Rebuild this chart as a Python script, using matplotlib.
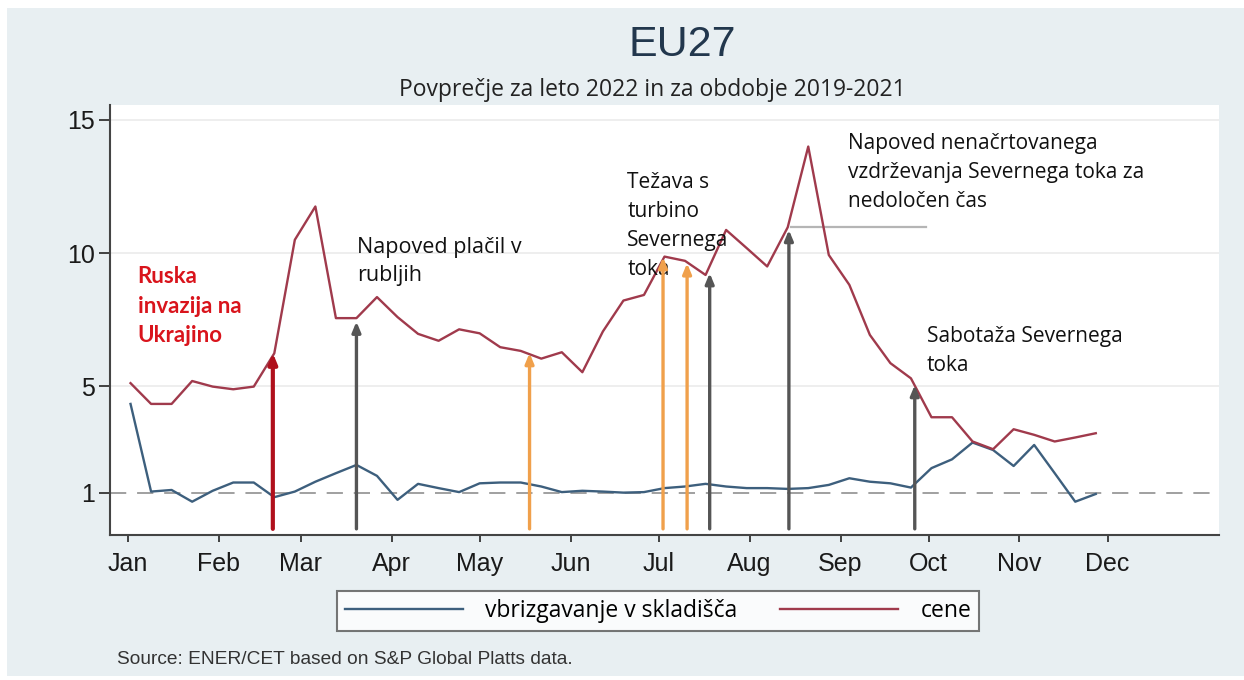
import matplotlib.pyplot as plt
from matplotlib.patches import Rectangle

# weekly observations, day-of-year (Jan 1 = 0)
week_day = [1 + 7 * i for i in range(48)]

cene = [5.12, 4.34, 4.34, 5.2, 4.99, 4.89, 4.99, 6.24, 10.5, 11.75,
        7.56, 7.56, 8.35, 7.6, 6.97, 6.71, 7.14, 6.99, 6.47, 6.33,
        6.04, 6.28, 5.53, 7.06, 8.22, 8.43, 9.87, 9.71, 9.18, 10.87,
        10.19, 9.5, 10.97, 14.0, 9.93, 8.81, 6.93, 5.87, 5.3, 3.84,
        3.84, 2.93, 2.64, 3.39, 3.18, 2.93, 3.08, 3.24]

vbrizg = [4.34, 1.05, 1.11, 0.67, 1.08, 1.39, 1.39, 0.84, 1.05, 1.42,
          1.74, 2.05, 1.64, 0.74, 1.34, 1.18, 1.03, 1.36, 1.39, 1.39,
          1.24, 1.03, 1.08, 1.05, 1.01, 1.03, 1.18, 1.24, 1.34, 1.24,
          1.18, 1.18, 1.15, 1.18, 1.30, 1.55, 1.42, 1.36, 1.2, 1.93,
          2.26, 2.89, 2.61, 2.01, 2.8, 1.74, 0.67, 0.96]

month_start = [0, 31, 59, 90, 120, 151, 181, 212, 243, 273, 304, 334]
month_lbl = ['Jan', 'Feb', 'Mar', 'Apr', 'May', 'Jun', 'Jul', 'Aug', 'Sep', 'Oct', 'Nov', 'Dec']

# event arrows: day, value at tip, colour
ev_day = [49.5, 78, 137, 182.5, 190.7, 198.4, 225.4, 268.3]
ev_val = [6.25, 7.43, 6.25, 9.85, 9.62, 9.25, 10.87, 5.05]
ev_col = ['#b0101c', '#555555', '#f0a04b', '#f0a04b', '#f0a04b', '#555555', '#555555', '#555555']

fig = plt.figure(figsize=(12.44, 6.8), dpi=100)
fig.patches.append(Rectangle((7 / 1244, 1 - 676 / 680), 1, 668 / 680, transform=fig.transFigure,
                             facecolor='#e8eff2', edgecolor='none', zorder=-10))
ax = fig.add_axes([110 / 1244, 1 - 535 / 680, 1109 / 1244, 430 / 680])
ax.set_facecolor('white')

ax.set_xlim(-6, 372)
ax.set_ylim(-0.58, 15.56)

for g in [5, 10, 15]:
    ax.axhline(g, color='#ededed', lw=1.3, zorder=0)
ax.axhline(1, color='#999999', lw=1.3, ls=(0, (9, 6)), zorder=1)

ax.plot(week_day, vbrizg, color='#3d5f7d', lw=1.7, zorder=3, label='vbrizgavanje v skladišča')
ax.plot(week_day, cene, color='#a03a4c', lw=1.7, zorder=3, label='cene')

ax.plot([226, 272], [10.98, 10.98], color='#b5b5b5', lw=1.6, zorder=2)

for d, v, c in zip(ev_day, ev_val, ev_col):
    w = 3.0 if c == '#b0101c' else 2.4
    ax.annotate('', xy=(d, v), xytext=(d, -0.35),
                arrowprops=dict(arrowstyle='-|>,head_length=0.6,head_width=0.25', color=c,
                                lw=w, shrinkA=0, shrinkB=0), zorder=4)

fnt = 'Open Sans'
ax.text(3.4, 9.5, 'Ruska\ninvazija na\nUkrajino', color='#d9141c', fontweight='bold',
        fontsize=16, family='Lato', va='top', ha='left', linespacing=1.5)
ax.text(78.2, 10.6, 'Napoved plačil v\nrubljih', color='#111111', fontsize=15.5, family=fnt,
        va='top', ha='left', linespacing=1.45)
ax.text(170.3, 13.05, 'Težava s\nturbino\nSevernega\ntoka', color='#111111', fontsize=15,
        family=fnt, va='top', ha='left', linespacing=1.5)
ax.text(245.4, 14.52, 'Napoved nenačrtovanega\nvzdrževanja Severnega toka za\nnedoločen čas',
        color='#111111', fontsize=15, family=fnt, va='top', ha='left', linespacing=1.5)
ax.text(272.4, 7.25, 'Sabotaža Severnega\ntoka', color='#111111', fontsize=15, family=fnt,
        va='top', ha='left', linespacing=1.5)

ax.set_yticks([1, 5, 10, 15])
ax.set_yticklabels(['1', '5', '10', '15'])
ax.set_xticks(month_start)
ax.set_xticklabels(month_lbl)
ax.tick_params(axis='both', labelsize=18, colors='#333333', labelcolor='#1a1a1a',
               width=1.3, direction='out')
ax.tick_params(axis='y', length=8, pad=3)
ax.tick_params(axis='x', length=5, pad=7)
for lab in ax.get_xticklabels() + ax.get_yticklabels():
    lab.set_family('Liberation Sans')

for s in ['top', 'right']:
    ax.spines[s].set_visible(False)
for s in ['left', 'bottom']:
    ax.spines[s].set_color('#444444')
    ax.spines[s].set_linewidth(1.5)

fig.text(682 / 1244, 1 - 45 / 680, 'EU27', ha='center', va='center', fontsize=31,
         family='Liberation Sans', color='#22374d')
fig.text(652 / 1244, 1 - 90 / 680, 'Povprečje za leto 2022 in za obdobje 2019-2021', ha='center',
         va='center', fontsize=16.5, family=fnt, color='#222222')

leg = fig.legend(loc='center', bbox_to_anchor=(658 / 1244, 1 - 611 / 680), ncol=2,
                 prop={'family': fnt, 'size': 16.5}, handlelength=5.15, handletextpad=0.95,
                 columnspacing=1.9, frameon=True, fancybox=False, borderpad=0.35,
                 borderaxespad=0)
leg.get_frame().set_edgecolor('#555555')
leg.get_frame().set_linewidth(1.5)

fig.text(117 / 1244, 1 - 660 / 680, 'Source: ENER/CET based on S&P Global Platts data.',
         ha='left', va='center', fontsize=13.8, family='Liberation Sans', color='#333333')

fig.savefig('out.png', dpi=100, facecolor='white')
